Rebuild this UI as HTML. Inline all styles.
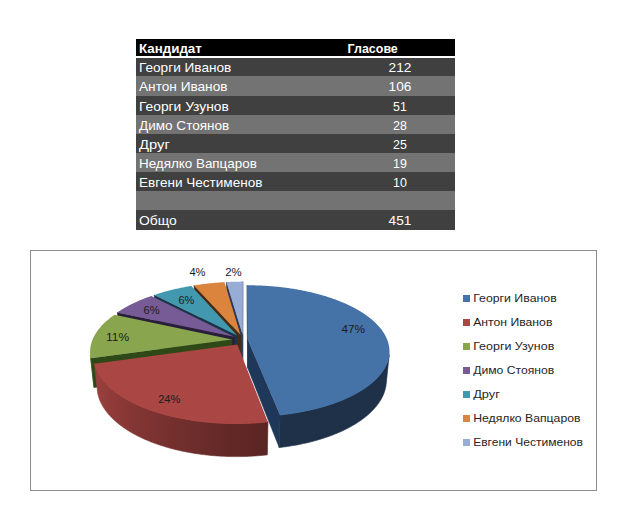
<!DOCTYPE html>
<html><head><meta charset="utf-8"><style>
html,body{margin:0;padding:0;background:#fff;width:629px;height:505px;overflow:hidden}
svg{position:absolute;left:0;top:0;font-family:'Liberation Sans', Arial, sans-serif}
</style></head><body>
<svg width="629" height="505" font-size="13">
<rect x="136" y="39" width="319" height="17" fill="#000"/>
<text x="139.0" y="52.6" font-weight="bold" textLength="62.8" lengthAdjust="spacingAndGlyphs" fill="#fff">Кандидат</text>
<text x="347.6" y="52.6" font-weight="bold" textLength="50.2" lengthAdjust="spacingAndGlyphs" fill="#fff">Гласове</text>
<rect x="136" y="58" width="319" height="18" fill="#404040"/>
<text x="139.0" y="72" textLength="92.3" lengthAdjust="spacingAndGlyphs" fill="#fff">Георги Иванов</text>
<text x="388.6" y="72" textLength="22.8" lengthAdjust="spacingAndGlyphs" fill="#fff">212</text>
<rect x="136" y="76" width="319" height="20" fill="#737373"/>
<text x="139.0" y="91" textLength="88.5" lengthAdjust="spacingAndGlyphs" fill="#fff">Антон Иванов</text>
<text x="388.6" y="91" textLength="22.8" lengthAdjust="spacingAndGlyphs" fill="#fff">106</text>
<rect x="136" y="96" width="319" height="19" fill="#404040"/>
<text x="139.0" y="111" textLength="89.8" lengthAdjust="spacingAndGlyphs" fill="#fff">Георги Узунов</text>
<text x="393.1" y="111" textLength="13.8" lengthAdjust="spacingAndGlyphs" fill="#fff">51</text>
<rect x="136" y="115" width="319" height="19" fill="#737373"/>
<text x="139.0" y="130" textLength="90.3" lengthAdjust="spacingAndGlyphs" fill="#fff">Димо Стоянов</text>
<text x="393.1" y="130" textLength="13.8" lengthAdjust="spacingAndGlyphs" fill="#fff">28</text>
<rect x="136" y="134" width="319" height="19" fill="#404040"/>
<text x="139.0" y="149" textLength="30.8" lengthAdjust="spacingAndGlyphs" fill="#fff">Друг</text>
<text x="393.1" y="149" textLength="13.8" lengthAdjust="spacingAndGlyphs" fill="#fff">25</text>
<rect x="136" y="153" width="319" height="19" fill="#737373"/>
<text x="139.0" y="168" textLength="117.8" lengthAdjust="spacingAndGlyphs" fill="#fff">Недялко Вапцаров</text>
<text x="393.1" y="168" textLength="13.8" lengthAdjust="spacingAndGlyphs" fill="#fff">19</text>
<rect x="136" y="172" width="319" height="19" fill="#404040"/>
<text x="139.0" y="187" textLength="123.4" lengthAdjust="spacingAndGlyphs" fill="#fff">Евгени Честименов</text>
<text x="393.1" y="187" textLength="13.8" lengthAdjust="spacingAndGlyphs" fill="#fff">10</text>
<rect x="136" y="191" width="319" height="19" fill="#737373"/>
<rect x="136" y="210" width="319" height="20" fill="#404040"/>
<text x="139.0" y="225" textLength="37.7" lengthAdjust="spacingAndGlyphs" fill="#fff">Общо</text>
<text x="388.6" y="225" textLength="22.8" lengthAdjust="spacingAndGlyphs" fill="#fff">451</text>
<rect x="30.5" y="250.5" width="566" height="240" fill="#fff" stroke="#8c8c8c" stroke-width="1"/>
<defs><linearGradient id="g1" gradientUnits="userSpaceOnUse" x1="280.11" y1="0" x2="389.27" y2="0"><stop offset="0.0000" stop-color="#1E3148"/><stop offset="0.0131" stop-color="#1E3148"/><stop offset="0.0781" stop-color="#1E3148"/><stop offset="0.1420" stop-color="#1E3148"/><stop offset="0.2045" stop-color="#1E3148"/><stop offset="0.2656" stop-color="#1E3148"/><stop offset="0.3249" stop-color="#1E3148"/><stop offset="0.3824" stop-color="#1E3148"/><stop offset="0.4379" stop-color="#1E3148"/><stop offset="0.4913" stop-color="#1E3148"/><stop offset="0.5424" stop-color="#1E3148"/><stop offset="0.5911" stop-color="#1E3148"/><stop offset="0.6374" stop-color="#1E3148"/><stop offset="0.6810" stop-color="#1E3148"/><stop offset="0.7221" stop-color="#1E3148"/><stop offset="0.7604" stop-color="#1E3148"/><stop offset="0.7960" stop-color="#1E3148"/><stop offset="0.8287" stop-color="#1E3148"/><stop offset="0.8586" stop-color="#1E3148"/><stop offset="0.8857" stop-color="#1E3148"/><stop offset="0.9099" stop-color="#1E3148"/><stop offset="0.9312" stop-color="#1E3148"/><stop offset="0.9497" stop-color="#1E3148"/><stop offset="0.9653" stop-color="#1E3148"/><stop offset="0.9781" stop-color="#1E3148"/><stop offset="0.9881" stop-color="#1E3148"/><stop offset="0.9954" stop-color="#1E3148"/><stop offset="1.0000" stop-color="#1E3148"/></linearGradient><linearGradient id="g2" gradientUnits="userSpaceOnUse" x1="90.33" y1="0" x2="90.73" y2="0"><stop offset="0.0000" stop-color="#7F9948"/><stop offset="0.0000" stop-color="#7F9948"/><stop offset="0.2053" stop-color="#7F9948"/><stop offset="0.4403" stop-color="#7F9948"/><stop offset="0.7051" stop-color="#7F9948"/><stop offset="1.0000" stop-color="#7F9948"/></linearGradient><linearGradient id="g3" gradientUnits="userSpaceOnUse" x1="94.41" y1="0" x2="267.97" y2="0"><stop offset="0.0000" stop-color="#9D413E"/><stop offset="0.0000" stop-color="#9D413E"/><stop offset="0.0070" stop-color="#9C403E"/><stop offset="0.0174" stop-color="#9A3F3D"/><stop offset="0.0314" stop-color="#983F3C"/><stop offset="0.0490" stop-color="#953E3B"/><stop offset="0.0702" stop-color="#933D3A"/><stop offset="0.0950" stop-color="#903B39"/><stop offset="0.1234" stop-color="#8D3A38"/><stop offset="0.1554" stop-color="#8A3936"/><stop offset="0.1908" stop-color="#873735"/><stop offset="0.2296" stop-color="#833634"/><stop offset="0.2717" stop-color="#803532"/><stop offset="0.3168" stop-color="#7D3331"/><stop offset="0.3648" stop-color="#7A3230"/><stop offset="0.4154" stop-color="#77312F"/><stop offset="0.4684" stop-color="#732F2D"/><stop offset="0.5236" stop-color="#702E2C"/><stop offset="0.5805" stop-color="#6D2D2B"/><stop offset="0.6389" stop-color="#6A2C2A"/><stop offset="0.6984" stop-color="#672A29"/><stop offset="0.7587" stop-color="#642927"/><stop offset="0.8194" stop-color="#612826"/><stop offset="0.8801" stop-color="#5F2725"/><stop offset="0.9404" stop-color="#5C2624"/><stop offset="1.0000" stop-color="#5A2524"/></linearGradient></defs><polygon points="242.66,334.68 226.45,282.05 226.75,307.06 242.68,362.78" fill="#2E3A58" stroke="#2E3A58" stroke-width="0.6" stroke-linejoin="round"/><polygon points="242.66,334.68 242.78,281.61 242.79,306.60 242.68,362.78" fill="#2E3A58" stroke="#2E3A58" stroke-width="0.6" stroke-linejoin="round"/><polygon points="242.66,334.68 226.45,282.05 227.62,281.99 228.78,281.94 229.94,281.89 231.11,281.84 232.27,281.80 233.44,281.76 234.61,281.72 235.77,281.69 236.94,281.67 238.11,281.65 239.28,281.63 240.44,281.62 241.61,281.62 242.78,281.61" fill="#98ADD6"/><polygon points="240.40,334.85 194.09,285.44 194.96,310.65 240.46,362.96" fill="#4A2A10" stroke="#4A2A10" stroke-width="0.6" stroke-linejoin="round"/><polygon points="240.40,334.85 194.09,285.44 195.12,285.27 196.14,285.11 197.17,284.95 198.20,284.80 199.24,284.65 200.27,284.50 201.31,284.36 202.35,284.22 203.39,284.09 204.43,283.96 205.48,283.83 206.52,283.71 207.57,283.59 208.62,283.47 209.67,283.36 210.72,283.25 211.77,283.15 212.83,283.04 213.89,282.95 214.94,282.85 216.00,282.76 217.06,282.68 218.12,282.60 219.18,282.52 220.25,282.44 221.31,282.37 222.38,282.31 223.44,282.24 224.51,282.18" fill="#DB843D"/><polygon points="237.21,335.50 154.22,295.00 155.83,320.80 237.34,363.65" fill="#1C3448" stroke="#1C3448" stroke-width="0.6" stroke-linejoin="round"/><polygon points="237.21,335.50 154.22,295.00 155.13,294.69 156.04,294.39 156.95,294.09 157.87,293.79 158.80,293.50 159.73,293.21 160.66,292.92 161.59,292.64 162.53,292.36 163.48,292.09 164.43,291.82 165.38,291.55 166.34,291.29 167.29,291.03 168.26,290.78 169.22,290.52 170.19,290.27 171.17,290.03 172.14,289.79 173.13,289.55 174.11,289.32 175.10,289.09 176.08,288.86 177.08,288.64 178.07,288.42 179.07,288.21 180.07,288.00 181.08,287.79 182.09,287.59 183.10,287.39 184.11,287.19 185.12,287.00 186.14,286.81 187.16,286.62 188.19,286.44 189.21,286.27 190.24,286.09 191.27,285.92" fill="#4198AF"/><polygon points="234.14,336.82 117.35,312.44 119.75,339.28 234.33,365.04" fill="#2A1F3A" stroke="#2A1F3A" stroke-width="0.6" stroke-linejoin="round"/><polygon points="234.14,336.82 117.35,312.44 118.01,311.99 118.67,311.54 119.34,311.10 120.02,310.66 120.71,310.22 121.40,309.79 122.10,309.36 122.80,308.93 123.52,308.50 124.24,308.08 124.96,307.66 125.69,307.25 126.43,306.83 127.18,306.42 127.93,306.02 128.69,305.62 129.45,305.22 130.22,304.82 131.00,304.43 131.78,304.04 132.56,303.65 133.36,303.27 134.16,302.89 134.96,302.52 135.77,302.14 136.59,301.78 137.41,301.41 138.23,301.05 139.06,300.69 139.90,300.33 140.74,299.98 141.59,299.64 142.44,299.29 143.30,298.95 144.16,298.61 145.03,298.28 145.90,297.95 146.78,297.62 147.66,297.30 148.54,296.98 149.43,296.66 150.33,296.35 151.23,296.04" fill="#765B97"/><polygon points="389.27,354.58 389.19,355.17 389.10,355.76 389.00,356.36 388.89,356.95 388.77,357.54 388.63,358.14 388.48,358.73 388.33,359.32 388.16,359.92 387.97,360.51 387.78,361.11 387.57,361.70 387.35,362.30 387.12,362.89 386.88,363.49 386.62,364.08 386.36,364.67 386.08,365.27 385.78,365.86 385.48,366.45 385.16,367.05 384.84,367.64 384.49,368.23 384.14,368.82 383.77,369.41 383.40,370.00 383.01,370.59 382.60,371.18 382.19,371.76 381.76,372.35 381.32,372.93 380.87,373.52 380.40,374.10 379.92,374.68 379.43,375.26 378.93,375.84 378.41,376.41 377.89,376.99 377.35,377.56 376.79,378.13 376.23,378.70 375.65,379.27 375.06,379.84 374.45,380.40 373.84,380.96 373.21,381.52 372.57,382.08 371.92,382.64 371.25,383.19 370.57,383.74 369.88,384.29 369.18,384.84 368.46,385.39 367.74,385.93 367.00,386.47 366.25,387.00 365.48,387.54 364.70,388.07 363.92,388.60 363.12,389.12 362.30,389.64 361.48,390.16 360.64,390.68 359.79,391.19 358.93,391.70 358.06,392.20 357.17,392.71 356.28,393.20 355.37,393.70 354.45,394.19 353.52,394.68 352.58,395.16 351.62,395.64 350.66,396.12 349.68,396.59 348.70,397.06 347.70,397.52 346.69,397.98 345.67,398.44 344.63,398.89 343.59,399.33 342.54,399.78 341.47,400.21 340.40,400.65 339.31,401.07 338.22,401.50 337.11,401.92 336.00,402.33 334.87,402.74 333.73,403.14 332.59,403.54 331.43,403.94 330.27,404.33 329.09,404.71 327.91,405.09 326.72,405.46 325.51,405.83 324.30,406.19 323.08,406.55 321.85,406.90 320.61,407.25 319.37,407.58 318.11,407.92 316.85,408.25 315.57,408.57 314.30,408.89 313.01,409.20 311.71,409.50 310.41,409.80 309.10,410.09 307.78,410.38 306.45,410.66 305.12,410.94 303.78,411.20 302.44,411.47 301.08,411.72 299.73,411.97 298.36,412.21 296.99,412.45 295.61,412.68 294.23,412.90 292.84,413.12 291.44,413.33 290.04,413.53 288.64,413.73 287.23,413.92 285.81,414.10 284.39,414.27 282.97,414.44 281.54,414.61 280.11,414.76 279.21,447.57 280.61,447.40 282.00,447.23 283.39,447.06 284.77,446.87 286.15,446.68 287.53,446.48 288.90,446.28 290.27,446.06 291.63,445.85 292.98,445.62 294.33,445.39 295.68,445.15 297.02,444.90 298.35,444.64 299.67,444.38 301.00,444.12 302.31,443.84 303.62,443.56 304.92,443.28 306.21,442.98 307.50,442.68 308.78,442.38 310.05,442.06 311.32,441.74 312.57,441.42 313.82,441.09 315.07,440.75 316.30,440.41 317.53,440.06 318.74,439.70 319.95,439.34 321.16,438.97 322.35,438.60 323.53,438.22 324.71,437.83 325.87,437.44 327.03,437.04 328.18,436.64 329.32,436.24 330.45,435.82 331.57,435.40 332.68,434.98 333.78,434.55 334.87,434.12 335.95,433.68 337.02,433.24 338.09,432.79 339.14,432.33 340.18,431.88 341.21,431.41 342.23,430.94 343.24,430.47 344.24,429.99 345.23,429.51 346.20,429.03 347.17,428.54 348.13,428.04 349.07,427.54 350.01,427.04 350.93,426.53 351.84,426.02 352.74,425.50 353.63,424.99 354.51,424.46 355.38,423.94 356.23,423.41 357.08,422.87 357.91,422.33 358.73,421.79 359.54,421.25 360.34,420.70 361.12,420.15 361.90,419.60 362.66,419.04 363.41,418.48 364.15,417.92 364.87,417.35 365.59,416.78 366.29,416.21 366.98,415.64 367.66,415.06 368.32,414.48 368.98,413.90 369.62,413.32 370.25,412.73 370.87,412.14 371.47,411.55 372.07,410.96 372.65,410.36 373.22,409.77 373.77,409.17 374.32,408.57 374.85,407.96 375.37,407.36 375.88,406.75 376.38,406.15 376.86,405.54 377.33,404.93 377.79,404.32 378.24,403.70 378.67,403.09 379.10,402.47 379.51,401.86 379.90,401.24 380.29,400.62 380.67,400.00 381.03,399.38 381.38,398.76 381.72,398.14 382.04,397.52 382.36,396.89 382.66,396.27 382.95,395.64 383.23,395.02 383.49,394.40 383.75,393.77 383.99,393.14 384.22,392.52 384.44,391.89 384.64,391.27 384.84,390.64 385.02,390.02 385.20,389.39 385.36,388.76 385.50,388.14 385.64,387.51 385.77,386.89 385.88,386.26 385.98,385.64 386.07,385.02 386.15,384.39" fill="url(#g1)" stroke="url(#g1)" stroke-width="0.6" stroke-linejoin="round"/><polygon points="247.79,339.70 247.15,285.27 247.09,310.48 247.71,368.08" fill="#1F3758" stroke="#1F3758" stroke-width="0.6" stroke-linejoin="round"/><polygon points="247.79,339.70 280.11,415.36 279.21,447.57 247.71,368.08" fill="#1F3758" stroke="#1F3758" stroke-width="0.6" stroke-linejoin="round"/><polygon points="247.79,339.70 247.15,285.27 248.19,285.27 249.24,285.28 250.28,285.29 251.32,285.30 252.36,285.32 253.40,285.34 254.44,285.36 255.48,285.39 256.52,285.42 257.56,285.45 258.60,285.49 259.64,285.53 260.67,285.57 261.71,285.62 262.75,285.67 263.79,285.73 264.82,285.79 265.86,285.85 266.89,285.92 267.92,285.98 268.96,286.06 269.99,286.13 271.02,286.21 272.05,286.30 273.08,286.38 274.10,286.48 275.13,286.57 276.16,286.67 277.18,286.77 278.20,286.87 279.22,286.98 280.25,287.09 281.26,287.21 282.28,287.33 283.30,287.45 284.31,287.58 285.32,287.71 286.34,287.84 287.34,287.98 288.35,288.12 289.36,288.26 290.36,288.41 291.36,288.56 292.36,288.72 293.36,288.87 294.36,289.04 295.35,289.20 296.35,289.37 297.34,289.54 298.32,289.72 299.31,289.90 300.29,290.08 301.27,290.26 302.25,290.45 303.23,290.65 304.20,290.84 305.17,291.04 306.14,291.25 307.11,291.46 308.07,291.67 309.03,291.88 309.99,292.10 310.94,292.32 311.89,292.54 312.84,292.77 313.79,293.00 314.73,293.24 315.67,293.48 316.61,293.72 317.54,293.96 318.47,294.21 319.40,294.47 320.32,294.72 321.24,294.98 322.16,295.24 323.07,295.51 323.98,295.78 324.88,296.05 325.79,296.33 326.69,296.61 327.58,296.89 328.47,297.18 329.36,297.47 330.24,297.76 331.12,298.06 331.99,298.36 332.86,298.66 333.73,298.97 334.59,299.28 335.45,299.59 336.30,299.91 337.15,300.23 338.00,300.55 338.84,300.88 339.67,301.21 340.50,301.55 341.33,301.88 342.15,302.22 342.97,302.57 343.78,302.91 344.59,303.26 345.39,303.62 346.18,303.97 346.98,304.33 347.76,304.70 348.54,305.06 349.32,305.43 350.09,305.81 350.86,306.18 351.61,306.56 352.37,306.94 353.12,307.33 353.86,307.72 354.60,308.11 355.33,308.50 356.05,308.90 356.77,309.30 357.49,309.71 358.20,310.12 358.90,310.53 359.59,310.94 360.28,311.36 360.96,311.78 361.64,312.20 362.31,312.62 362.97,313.05 363.63,313.48 364.28,313.92 364.93,314.36 365.56,314.80 366.19,315.24 366.82,315.69 367.43,316.14 368.04,316.59 368.65,317.04 369.24,317.50 369.83,317.96 370.41,318.43 370.98,318.89 371.55,319.36 372.11,319.83 372.66,320.31 373.20,320.79 373.74,321.27 374.27,321.75 374.79,322.23 375.30,322.72 375.80,323.21 376.30,323.70 376.79,324.20 377.27,324.70 377.74,325.20 378.21,325.70 378.66,326.21 379.11,326.72 379.55,327.23 379.98,327.74 380.40,328.25 380.81,328.77 381.22,329.29 381.61,329.81 382.00,330.34 382.38,330.87 382.75,331.40 383.11,331.93 383.46,332.46 383.80,333.00 384.13,333.53 384.45,334.07 384.77,334.61 385.07,335.16 385.36,335.70 385.65,336.25 385.92,336.80 386.19,337.35 386.45,337.91 386.69,338.46 386.93,339.02 387.15,339.58 387.37,340.14 387.57,340.70 387.77,341.26 387.96,341.83 388.13,342.39 388.30,342.96 388.45,343.53 388.59,344.10 388.73,344.68 388.85,345.25 388.96,345.83 389.07,346.40 389.16,346.98 389.24,347.56 389.31,348.14 389.36,348.72 389.41,349.30 389.45,349.89 389.47,350.47 389.49,351.06 389.49,351.64 389.48,352.23 389.46,352.82 389.43,353.41 389.39,354.00 389.33,354.59 389.27,355.18 389.19,355.77 389.10,356.36 389.00,356.96 388.89,357.55 388.77,358.14 388.63,358.74 388.48,359.33 388.33,359.92 388.16,360.52 387.97,361.11 387.78,361.71 387.57,362.30 387.35,362.90 387.12,363.49 386.88,364.09 386.62,364.68 386.36,365.27 386.08,365.87 385.78,366.46 385.48,367.05 385.16,367.65 384.84,368.24 384.49,368.83 384.14,369.42 383.77,370.01 383.40,370.60 383.01,371.19 382.60,371.78 382.19,372.36 381.76,372.95 381.32,373.53 380.87,374.12 380.40,374.70 379.92,375.28 379.43,375.86 378.93,376.44 378.41,377.01 377.89,377.59 377.35,378.16 376.79,378.73 376.23,379.30 375.65,379.87 375.06,380.44 374.45,381.00 373.84,381.56 373.21,382.12 372.57,382.68 371.92,383.24 371.25,383.79 370.57,384.34 369.88,384.89 369.18,385.44 368.46,385.99 367.74,386.53 367.00,387.07 366.25,387.60 365.48,388.14 364.70,388.67 363.92,389.20 363.12,389.72 362.30,390.24 361.48,390.76 360.64,391.28 359.79,391.79 358.93,392.30 358.06,392.80 357.17,393.31 356.28,393.80 355.37,394.30 354.45,394.79 353.52,395.28 352.58,395.76 351.62,396.24 350.66,396.72 349.68,397.19 348.70,397.66 347.70,398.12 346.69,398.58 345.67,399.04 344.63,399.49 343.59,399.93 342.54,400.38 341.47,400.81 340.40,401.25 339.31,401.67 338.22,402.10 337.11,402.52 336.00,402.93 334.87,403.34 333.73,403.74 332.59,404.14 331.43,404.54 330.27,404.93 329.09,405.31 327.91,405.69 326.72,406.06 325.51,406.43 324.30,406.79 323.08,407.15 321.85,407.50 320.61,407.85 319.37,408.18 318.11,408.52 316.85,408.85 315.57,409.17 314.30,409.49 313.01,409.80 311.71,410.10 310.41,410.40 309.10,410.69 307.78,410.98 306.45,411.26 305.12,411.54 303.78,411.80 302.44,412.07 301.08,412.32 299.73,412.57 298.36,412.81 296.99,413.05 295.61,413.28 294.23,413.50 292.84,413.72 291.44,413.93 290.04,414.13 288.64,414.33 287.23,414.52 285.81,414.70 284.39,414.87 282.97,415.04 281.54,415.21 280.11,415.36" fill="#4572A7"/><polygon points="90.73,357.57 90.61,356.97 90.51,356.37 90.41,355.77 90.33,355.17 93.60,385.02 93.69,385.65 93.79,386.28 93.90,386.91 94.02,387.54" fill="url(#g2)" stroke="url(#g2)" stroke-width="0.6" stroke-linejoin="round"/><polygon points="231.93,339.51 90.73,358.17 94.02,387.54 232.17,367.87" fill="#2E4818" stroke="#2E4818" stroke-width="0.6" stroke-linejoin="round"/><polygon points="231.93,339.51 90.73,358.17 90.61,357.57 90.51,356.97 90.41,356.37 90.33,355.77 90.26,355.17 90.20,354.57 90.15,353.98 90.12,353.38 90.09,352.78 90.08,352.19 90.08,351.59 90.09,351.00 90.12,350.40 90.15,349.81 90.20,349.22 90.25,348.63 90.32,348.04 90.40,347.46 90.49,346.87 90.59,346.28 90.71,345.70 90.83,345.12 90.96,344.54 91.11,343.96 91.27,343.38 91.43,342.80 91.61,342.22 91.80,341.65 92.00,341.08 92.21,340.51 92.42,339.94 92.65,339.37 92.89,338.81 93.14,338.24 93.40,337.68 93.68,337.12 93.96,336.56 94.25,336.01 94.55,335.45 94.86,334.90 95.18,334.35 95.50,333.80 95.84,333.26 96.19,332.71 96.55,332.17 96.92,331.63 97.29,331.09 97.68,330.56 98.07,330.03 98.48,329.50 98.89,328.97 99.31,328.44 99.74,327.92 100.18,327.40 100.63,326.88 101.09,326.36 101.56,325.85 102.03,325.34 102.51,324.83 103.00,324.32 103.50,323.82 104.01,323.32 104.53,322.82 105.05,322.33 105.58,321.83 106.12,321.34 106.67,320.86 107.23,320.37 107.79,319.89 108.36,319.41 108.94,318.93 109.53,318.46 110.12,317.99 110.72,317.52 111.33,317.06 111.95,316.60 112.57,316.14 113.20,315.68 113.84,315.23 114.49,314.78" fill="#89A54E"/><polygon points="267.97,421.71 266.50,421.86 265.03,422.01 263.56,422.15 262.08,422.28 260.60,422.40 259.11,422.52 257.63,422.63 256.14,422.73 254.65,422.83 253.15,422.92 251.66,423.00 250.16,423.07 248.66,423.14 247.16,423.20 245.65,423.25 244.15,423.29 242.65,423.33 241.14,423.36 239.64,423.38 238.13,423.39 236.62,423.40 235.12,423.40 233.61,423.39 232.11,423.38 230.60,423.35 229.10,423.32 227.59,423.28 226.09,423.24 224.59,423.19 223.09,423.12 221.60,423.06 220.10,422.98 218.61,422.90 217.12,422.81 215.63,422.71 214.14,422.61 212.66,422.50 211.18,422.38 209.70,422.25 208.23,422.12 206.76,421.98 205.30,421.83 203.84,421.67 202.38,421.51 200.92,421.34 199.48,421.16 198.03,420.98 196.59,420.79 195.16,420.59 193.73,420.39 192.31,420.17 190.89,419.96 189.48,419.73 188.07,419.50 186.67,419.26 185.28,419.01 183.89,418.76 182.51,418.50 181.14,418.24 179.77,417.96 178.41,417.69 177.05,417.40 175.71,417.11 174.37,416.81 173.04,416.51 171.72,416.19 170.40,415.88 169.09,415.55 167.80,415.23 166.50,414.89 165.22,414.55 163.95,414.20 162.68,413.85 161.43,413.49 160.18,413.12 158.94,412.75 157.72,412.38 156.50,412.00 155.29,411.61 154.09,411.21 152.90,410.82 151.72,410.41 150.55,410.00 149.39,409.59 148.24,409.17 147.10,408.75 145.97,408.32 144.85,407.88 143.74,407.44 142.64,407.00 141.56,406.55 140.48,406.09 139.42,405.63 138.36,405.17 137.32,404.70 136.29,404.23 135.27,403.76 134.26,403.27 133.26,402.79 132.28,402.30 131.30,401.81 130.34,401.31 129.39,400.81 128.45,400.30 127.52,399.79 126.61,399.28 125.71,398.76 124.81,398.24 123.94,397.72 123.07,397.19 122.22,396.66 121.37,396.13 120.54,395.59 119.73,395.05 118.92,394.51 118.13,393.96 117.35,393.41 116.58,392.86 115.83,392.31 115.08,391.75 114.35,391.19 113.64,390.62 112.93,390.06 112.24,389.49 111.56,388.92 110.90,388.35 110.24,387.77 109.60,387.19 108.97,386.61 108.36,386.03 107.76,385.45 107.17,384.86 106.59,384.28 106.03,383.69 105.47,383.10 104.94,382.50 104.41,381.91 103.90,381.31 103.40,380.72 102.91,380.12 102.44,379.52 101.98,378.92 101.53,378.32 101.09,377.71 100.67,377.11 100.26,376.50 99.86,375.90 99.48,375.29 99.10,374.68 98.74,374.07 98.40,373.46 98.06,372.85 97.74,372.24 97.43,371.63 97.13,371.02 96.85,370.41 96.58,369.80 96.32,369.18 96.07,368.57 95.84,367.96 95.62,367.34 95.41,366.73 95.21,366.12 95.02,365.51 94.85,364.89 94.69,364.28 94.54,363.67 94.41,363.06 97.66,393.32 97.80,393.96 97.95,394.61 98.11,395.25 98.28,395.89 98.47,396.54 98.67,397.18 98.88,397.83 99.10,398.47 99.33,399.12 99.58,399.76 99.84,400.41 100.11,401.05 100.39,401.69 100.69,402.34 100.99,402.98 101.31,403.62 101.64,404.26 101.99,404.90 102.34,405.54 102.71,406.18 103.09,406.82 103.49,407.45 103.89,408.09 104.31,408.73 104.74,409.36 105.18,409.99 105.64,410.62 106.11,411.25 106.59,411.88 107.08,412.51 107.59,413.13 108.10,413.76 108.63,414.38 109.18,415.00 109.73,415.62 110.30,416.24 110.88,416.85 111.47,417.46 112.08,418.07 112.70,418.68 113.33,419.29 113.97,419.89 114.62,420.49 115.29,421.09 115.97,421.69 116.66,422.28 117.37,422.87 118.08,423.46 118.81,424.04 119.55,424.63 120.31,425.21 121.07,425.78 121.85,426.35 122.64,426.92 123.44,427.49 124.26,428.05 125.08,428.61 125.92,429.17 126.77,429.72 127.63,430.27 128.50,430.82 129.39,431.36 130.28,431.89 131.19,432.43 132.11,432.96 133.04,433.48 133.98,434.00 134.94,434.52 135.90,435.03 136.88,435.54 137.87,436.04 138.87,436.54 139.87,437.04 140.89,437.53 141.93,438.01 142.97,438.49 144.02,438.97 145.08,439.44 146.16,439.90 147.24,440.36 148.33,440.82 149.44,441.27 150.55,441.71 151.68,442.15 152.81,442.59 153.95,443.02 155.11,443.44 156.27,443.85 157.44,444.27 158.63,444.67 159.82,445.07 161.02,445.46 162.23,445.85 163.44,446.23 164.67,446.61 165.90,446.98 167.15,447.34 168.40,447.70 169.66,448.05 170.93,448.40 172.20,448.73 173.49,449.07 174.78,449.39 176.08,449.71 177.39,450.02 178.70,450.33 180.02,450.62 181.35,450.92 182.68,451.20 184.02,451.48 185.37,451.75 186.72,452.01 188.08,452.27 189.45,452.52 190.82,452.76 192.20,453.00 193.58,453.23 194.97,453.45 196.36,453.66 197.76,453.87 199.17,454.07 200.57,454.26 201.99,454.45 203.40,454.62 204.83,454.79 206.25,454.96 207.68,455.11 209.11,455.26 210.55,455.40 211.99,455.53 213.43,455.65 214.88,455.77 216.33,455.88 217.78,455.98 219.23,456.08 220.69,456.16 222.14,456.24 223.60,456.31 225.06,456.37 226.53,456.43 227.99,456.48 229.46,456.52 230.92,456.55 232.39,456.57 233.86,456.59 235.33,456.60 236.79,456.60 238.26,456.59 239.73,456.58 241.20,456.55 242.67,456.52 244.13,456.49 245.60,456.44 247.06,456.39 248.53,456.33 249.99,456.26 251.45,456.18 252.91,456.09 254.37,456.00 255.82,455.90 257.27,455.79 258.72,455.68 260.17,455.56 261.61,455.43 263.05,455.29 264.49,455.14 265.93,454.99 267.36,454.83" fill="url(#g3)" stroke="url(#g3)" stroke-width="0.6" stroke-linejoin="round"/><polygon points="237.33,344.47 267.97,422.31 266.50,422.46 265.03,422.61 263.56,422.75 262.08,422.88 260.60,423.00 259.11,423.12 257.63,423.23 256.14,423.33 254.65,423.43 253.15,423.52 251.66,423.60 250.16,423.67 248.66,423.74 247.16,423.80 245.65,423.85 244.15,423.89 242.65,423.93 241.14,423.96 239.64,423.98 238.13,423.99 236.62,424.00 235.12,424.00 233.61,423.99 232.11,423.98 230.60,423.95 229.10,423.92 227.59,423.88 226.09,423.84 224.59,423.79 223.09,423.72 221.60,423.66 220.10,423.58 218.61,423.50 217.12,423.41 215.63,423.31 214.14,423.21 212.66,423.10 211.18,422.98 209.70,422.85 208.23,422.72 206.76,422.58 205.30,422.43 203.84,422.27 202.38,422.11 200.92,421.94 199.48,421.76 198.03,421.58 196.59,421.39 195.16,421.19 193.73,420.99 192.31,420.77 190.89,420.56 189.48,420.33 188.07,420.10 186.67,419.86 185.28,419.61 183.89,419.36 182.51,419.10 181.14,418.84 179.77,418.56 178.41,418.29 177.05,418.00 175.71,417.71 174.37,417.41 173.04,417.11 171.72,416.79 170.40,416.48 169.09,416.15 167.80,415.83 166.50,415.49 165.22,415.15 163.95,414.80 162.68,414.45 161.43,414.09 160.18,413.72 158.94,413.35 157.72,412.98 156.50,412.60 155.29,412.21 154.09,411.81 152.90,411.42 151.72,411.01 150.55,410.60 149.39,410.19 148.24,409.77 147.10,409.35 145.97,408.92 144.85,408.48 143.74,408.04 142.64,407.60 141.56,407.15 140.48,406.69 139.42,406.23 138.36,405.77 137.32,405.30 136.29,404.83 135.27,404.36 134.26,403.87 133.26,403.39 132.28,402.90 131.30,402.41 130.34,401.91 129.39,401.41 128.45,400.90 127.52,400.39 126.61,399.88 125.71,399.36 124.81,398.84 123.94,398.32 123.07,397.79 122.22,397.26 121.37,396.73 120.54,396.19 119.73,395.65 118.92,395.11 118.13,394.56 117.35,394.01 116.58,393.46 115.83,392.91 115.08,392.35 114.35,391.79 113.64,391.22 112.93,390.66 112.24,390.09 111.56,389.52 110.90,388.95 110.24,388.37 109.60,387.79 108.97,387.21 108.36,386.63 107.76,386.05 107.17,385.46 106.59,384.88 106.03,384.29 105.47,383.70 104.94,383.10 104.41,382.51 103.90,381.91 103.40,381.32 102.91,380.72 102.44,380.12 101.98,379.52 101.53,378.92 101.09,378.31 100.67,377.71 100.26,377.10 99.86,376.50 99.48,375.89 99.10,375.28 98.74,374.67 98.40,374.06 98.06,373.45 97.74,372.84 97.43,372.23 97.13,371.62 96.85,371.01 96.58,370.40 96.32,369.78 96.07,369.17 95.84,368.56 95.62,367.94 95.41,367.33 95.21,366.72 95.02,366.11 94.85,365.49 94.69,364.88 94.54,364.27 94.41,363.66" fill="#AA4643"/>
<text x="341.4" y="333.0" textLength="23.5" lengthAdjust="spacingAndGlyphs" font-size="11.7" fill="#1c1c1c">47%</text>
<text x="158.2" y="402.5" textLength="22.2" lengthAdjust="spacingAndGlyphs" font-size="11.7" fill="#1c1c1c">24%</text>
<text x="106.0" y="341.0" textLength="23.1" lengthAdjust="spacingAndGlyphs" font-size="11.7" fill="#1c1c1c">11%</text>
<text x="143.6" y="313.8" textLength="16.0" lengthAdjust="spacingAndGlyphs" font-size="11.7" fill="#1c1c1c">6%</text>
<text x="178.5" y="303.9" textLength="15.9" lengthAdjust="spacingAndGlyphs" font-size="11.7" fill="#1c1c1c">6%</text>
<text x="189.4" y="275.9" textLength="16.1" lengthAdjust="spacingAndGlyphs" font-size="11.7" fill="#1c1c1c">4%</text>
<text x="225.2" y="275.9" textLength="16.5" lengthAdjust="spacingAndGlyphs" font-size="11.7" fill="#1c1c1c">2%</text>
<rect x="463" y="295" width="7" height="7" fill="#4572A7"/>
<text x="473.2" y="301.9" textLength="83.5" lengthAdjust="spacingAndGlyphs" font-size="10.3" fill="#262626">Георги Иванов</text>
<rect x="463" y="319" width="7" height="7" fill="#AA4643"/>
<text x="473.2" y="325.9" textLength="79.2" lengthAdjust="spacingAndGlyphs" font-size="10.3" fill="#262626">Антон Иванов</text>
<rect x="463" y="343" width="7" height="7" fill="#89A54E"/>
<text x="473.2" y="349.9" textLength="81.1" lengthAdjust="spacingAndGlyphs" font-size="10.3" fill="#262626">Георги Узунов</text>
<rect x="463" y="367" width="7" height="7" fill="#765B97"/>
<text x="473.2" y="373.9" textLength="81.1" lengthAdjust="spacingAndGlyphs" font-size="10.3" fill="#262626">Димо Стоянов</text>
<rect x="463" y="391" width="7" height="7" fill="#4198AF"/>
<text x="473.2" y="397.9" textLength="26.7" lengthAdjust="spacingAndGlyphs" font-size="10.3" fill="#262626">Друг</text>
<rect x="463" y="415" width="7" height="7" fill="#DB843D"/>
<text x="473.2" y="421.9" textLength="107.3" lengthAdjust="spacingAndGlyphs" font-size="10.3" fill="#262626">Недялко Вапцаров</text>
<rect x="463" y="439" width="7" height="7" fill="#98ADD6"/>
<text x="473.2" y="445.9" textLength="109.7" lengthAdjust="spacingAndGlyphs" font-size="10.3" fill="#262626">Евгени Честименов</text>
</svg>
</body></html>
